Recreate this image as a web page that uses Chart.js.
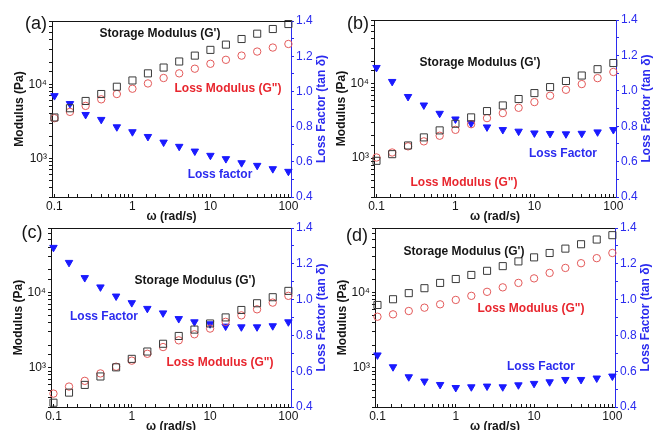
<!DOCTYPE html>
<html>
<head>
<meta charset="utf-8">
<script src="https://cdn.jsdelivr.net/npm/chart.js@4.4.0/dist/chart.umd.min.js"></script>
<style>
  html, body { margin: 0; padding: 0; background: #fff; overflow: hidden; width: 654px; height: 430px; }
  body { position: relative; }
  canvas { position: absolute; }
</style>
</head>
<body>
<script>
// ==========================================
// DATA
// ==========================================

const omega = [0.1, 0.158, 0.251, 0.398, 0.631, 1, 1.58, 2.51, 3.98, 6.31, 10, 15.8, 25.1, 39.8, 63.1, 100];

const storageA = [3570, 4760, 5970, 7410, 9300, 11300, 14100, 16900, 20400, 24500, 29300, 34500, 41100, 48500, 56100, 65500];
const lossModA = [3490, 4250, 5120, 6280, 7410, 8740, 10300, 12200, 14100, 16300, 19000, 21500, 24500, 27800, 31500, 35200];
const tanA = [0.975, 0.930, 0.868, 0.840, 0.798, 0.770, 0.743, 0.711, 0.687, 0.660, 0.636, 0.617, 0.594, 0.579, 0.560, 0.545];

const storageB = [920, 1130, 1480, 1900, 2360, 2900, 3530, 4290, 5110, 6230, 7490, 9020, 10900, 12900, 15700, 19000];
const lossModB = [1020, 1190, 1440, 1680, 2000, 2400, 2860, 3450, 4030, 4750, 5670, 6900, 8300, 9900, 11900, 14400];
const tanB = [1.131, 1.052, 0.967, 0.919, 0.872, 0.840, 0.817, 0.795, 0.780, 0.771, 0.761, 0.758, 0.756, 0.759, 0.767, 0.780];

const storageC = [342, 466, 590, 764, 1010, 1310, 1640, 2080, 2640, 3210, 3870, 4660, 5850, 7190, 8650, 10500];
const lossModC = [452, 561, 668, 839, 1030, 1240, 1530, 1880, 2310, 2780, 3310, 4070, 4960, 5970, 7330, 9020];
const tanC = [1.291, 1.207, 1.122, 1.070, 1.019, 0.982, 0.950, 0.925, 0.893, 0.875, 0.864, 0.851, 0.847, 0.847, 0.853, 0.875];

const storageD = [6820, 8130, 9800, 11400, 13400, 15100, 17100, 19400, 22400, 25900, 29300, 33500, 38300, 43800, 50600, 57800];
const lossModD = [4760, 5120, 5670, 6280, 6960, 7960, 9020, 10200, 11700, 13400, 15400, 18200, 21200, 24500, 28600, 33500];
const tanD = [0.690, 0.624, 0.568, 0.544, 0.525, 0.508, 0.512, 0.516, 0.512, 0.523, 0.531, 0.540, 0.553, 0.553, 0.561, 0.572];

// tick labels
const xTickLabels = [0.1, 1, 10, 100];
const modulusTickValues = [1000, 10000];
const modulusTickText = ['10³', '10⁴'];
const tanTickLabels = [0.4, 0.6, 0.8, 1.0, 1.2, 1.4];

// ==========================================
// STYLE
// ==========================================

const FONT = '"Liberation Sans", Arial, Helvetica, sans-serif';
const INK = '#151515';
const SQUARE = '#3a3a3a';
const CIRCLE = '#e35a5a';
const RED_TXT = '#e8262e';
const BLUE = '#1a1aff';
const BLUE_AX = '#2b2bef';

Chart.defaults.font.family = FONT;
Chart.defaults.font.size = 12;
Chart.defaults.color = INK;

// page layout of each panel (plot area in page pixels)
const panels = [
    {
        tag: '(a)', tagPos: [36, 24], g1: storageA, g2: lossModA, tan: tanA,
        area: { l: 52, t: 21, r: 291, b: 197 },
        notes: [
            ["Storage Modulus (G')", 160, 34, INK],
            ['Loss Modulus (G")', 228, 89, RED_TXT],
            ['Loss factor', 220, 175, BLUE_AX]
        ]
    },
    {
        tag: '(b)', tagPos: [358, 24], g1: storageB, g2: lossModB, tan: tanB,
        area: { l: 374, t: 20, r: 616, b: 197 },
        notes: [
            ["Storage Modulus (G')", 480, 63, INK],
            ['Loss Factor', 563, 154, BLUE_AX],
            ['Loss Modulus (G")', 464, 183, RED_TXT]
        ]
    },
    {
        tag: '(c)', tagPos: [32, 233], g1: storageC, g2: lossModC, tan: tanC,
        area: { l: 51, t: 228, r: 291, b: 407 },
        notes: [
            ["Storage Modulus (G')", 195, 281, INK],
            ['Loss Factor', 104, 317, BLUE_AX],
            ['Loss Modulus (G")', 220, 363, RED_TXT]
        ]
    },
    {
        tag: '(d)', tagPos: [357, 236], g1: storageD, g2: lossModD, tan: tanD,
        area: { l: 375, t: 228, r: 615, b: 407 },
        notes: [
            ["Storage Modulus (G')", 464, 252, INK],
            ['Loss Modulus (G")', 531, 309, RED_TXT],
            ['Loss Factor', 541, 367, BLUE_AX]
        ]
    }
];

const LEFT_W = 52, RIGHT_W = 40, TOP_PAD = 21, BOTTOM_H = 32;

const pts = ys => omega.map((x, i) => ({ x, y: ys[i] }));
const near = (list, v) => list.find(t => Math.abs(t - v) < 1e-6 * Math.max(1, Math.abs(t)));

// frame top line, right title, annotations, panel tag
const makeDecor = (p, ox, oy) => ({
    id: 'decor',
    afterDraw(chart) {
        const { ctx, chartArea: a } = chart;
        ctx.save();
        ctx.strokeStyle = INK;
        ctx.lineWidth = 1;
        ctx.beginPath();
        ctx.moveTo(a.left, a.top + 0.5);
        ctx.lineTo(a.right, a.top + 0.5);
        ctx.stroke();

        ctx.textAlign = 'center';
        ctx.textBaseline = 'middle';

        ctx.save();
        ctx.translate(a.right + 31, (a.top + a.bottom) / 2);
        ctx.rotate(-Math.PI / 2);
        ctx.font = 'bold 12px ' + FONT;
        ctx.fillStyle = BLUE_AX;
        ctx.fillText('Loss Factor (tan δ)', 0, 0);
        ctx.restore();

        ctx.font = 'bold 12px ' + FONT;
        p.notes.forEach(([txt, x, y, col]) => {
            ctx.fillStyle = col;
            ctx.fillText(txt, x - ox, y - oy);
        });

        ctx.font = '18px ' + FONT;
        ctx.fillStyle = INK;
        ctx.fillText(p.tag, p.tagPos[0] - ox, p.tagPos[1] - oy);
        ctx.restore();
    }
});

panels.forEach(p => {
    const ox = p.area.l - LEFT_W;
    const oy = p.area.t - TOP_PAD;
    const cv = document.createElement('canvas');
    cv.width = p.area.r - p.area.l + LEFT_W + RIGHT_W;
    cv.height = p.area.b - p.area.t + TOP_PAD + BOTTOM_H;
    cv.style.left = ox + 'px';
    cv.style.top = oy + 'px';
    document.body.appendChild(cv);

    new Chart(cv, {
        type: 'scatter',
        data: {
            datasets: [
                {
                    label: "G'", data: pts(p.g1), yAxisID: 'y',
                    pointStyle: 'rect', pointRadius: 5, pointBorderWidth: 1,
                    pointBorderColor: SQUARE, pointBackgroundColor: 'rgba(0,0,0,0)', clip: false
                },
                {
                    label: 'G"', data: pts(p.g2), yAxisID: 'y',
                    pointStyle: 'circle', pointRadius: 3.7, pointBorderWidth: 1,
                    pointBorderColor: CIRCLE, pointBackgroundColor: 'rgba(0,0,0,0)', clip: false
                },
                {
                    label: 'tan δ', data: pts(p.tan), yAxisID: 'y2',
                    pointStyle: 'triangle', pointRotation: 180, pointRadius: 4.3, pointBorderWidth: 1,
                    pointBorderColor: BLUE, pointBackgroundColor: BLUE, clip: false
                }
            ]
        },
        options: {
            responsive: false,
            animation: false,
            devicePixelRatio: 1,
            layout: { padding: { top: TOP_PAD, left: 0, right: 0, bottom: 0 } },
            plugins: { legend: { display: false }, tooltip: { enabled: false } },
            scales: {
                x: {
                    type: 'logarithmic', position: 'bottom', min: 0.093, max: 108,
                    afterFit: s => { s.height = BOTTOM_H; },
                    border: { display: true, color: INK, width: 1 },
                    grid: { drawOnChartArea: false, tickLength: -3, color: INK },
                    ticks: {
                        autoSkip: false, maxRotation: 0, padding: 5, color: INK,
                        callback: v => { const t = near(xTickLabels, v); return t === undefined ? '' : String(t); }
                    },
                    title: {
                        display: true, text: 'ω (rad/s)', color: INK,
                        font: { weight: 'bold', size: 12 }, padding: { top: 0, bottom: 5 }
                    }
                },
                y: {
                    type: 'logarithmic', position: 'left', min: 300, max: 72000,
                    afterFit: s => { s.width = LEFT_W; },
                    border: { display: true, color: INK, width: 1 },
                    grid: { drawOnChartArea: false, tickLength: 3, color: INK },
                    ticks: {
                        autoSkip: false, padding: 2, color: INK,
                        callback: v => { const k = modulusTickValues.indexOf(v); return k < 0 ? '' : modulusTickText[k]; }
                    },
                    title: {
                        display: true, text: 'Modulus (Pa)', color: INK,
                        font: { weight: 'bold', size: 12 }, padding: { top: 12, bottom: 0 }
                    }
                },
                y2: {
                    type: 'linear', position: 'right', min: 0.4, max: 1.4,
                    afterFit: s => { s.width = RIGHT_W; },
                    border: { display: true, color: BLUE_AX, width: 1 },
                    grid: { drawOnChartArea: false, tickLength: 3, color: BLUE_AX },
                    ticks: {
                        stepSize: 0.1, autoSkip: false, padding: 2, color: BLUE_AX,
                        callback: v => { const t = near(tanTickLabels, v); return t === undefined ? '' : t.toFixed(1); }
                    }
                }
            }
        },
        plugins: [makeDecor(p, ox, oy)]
    });
});
</script>
</body>
</html>
